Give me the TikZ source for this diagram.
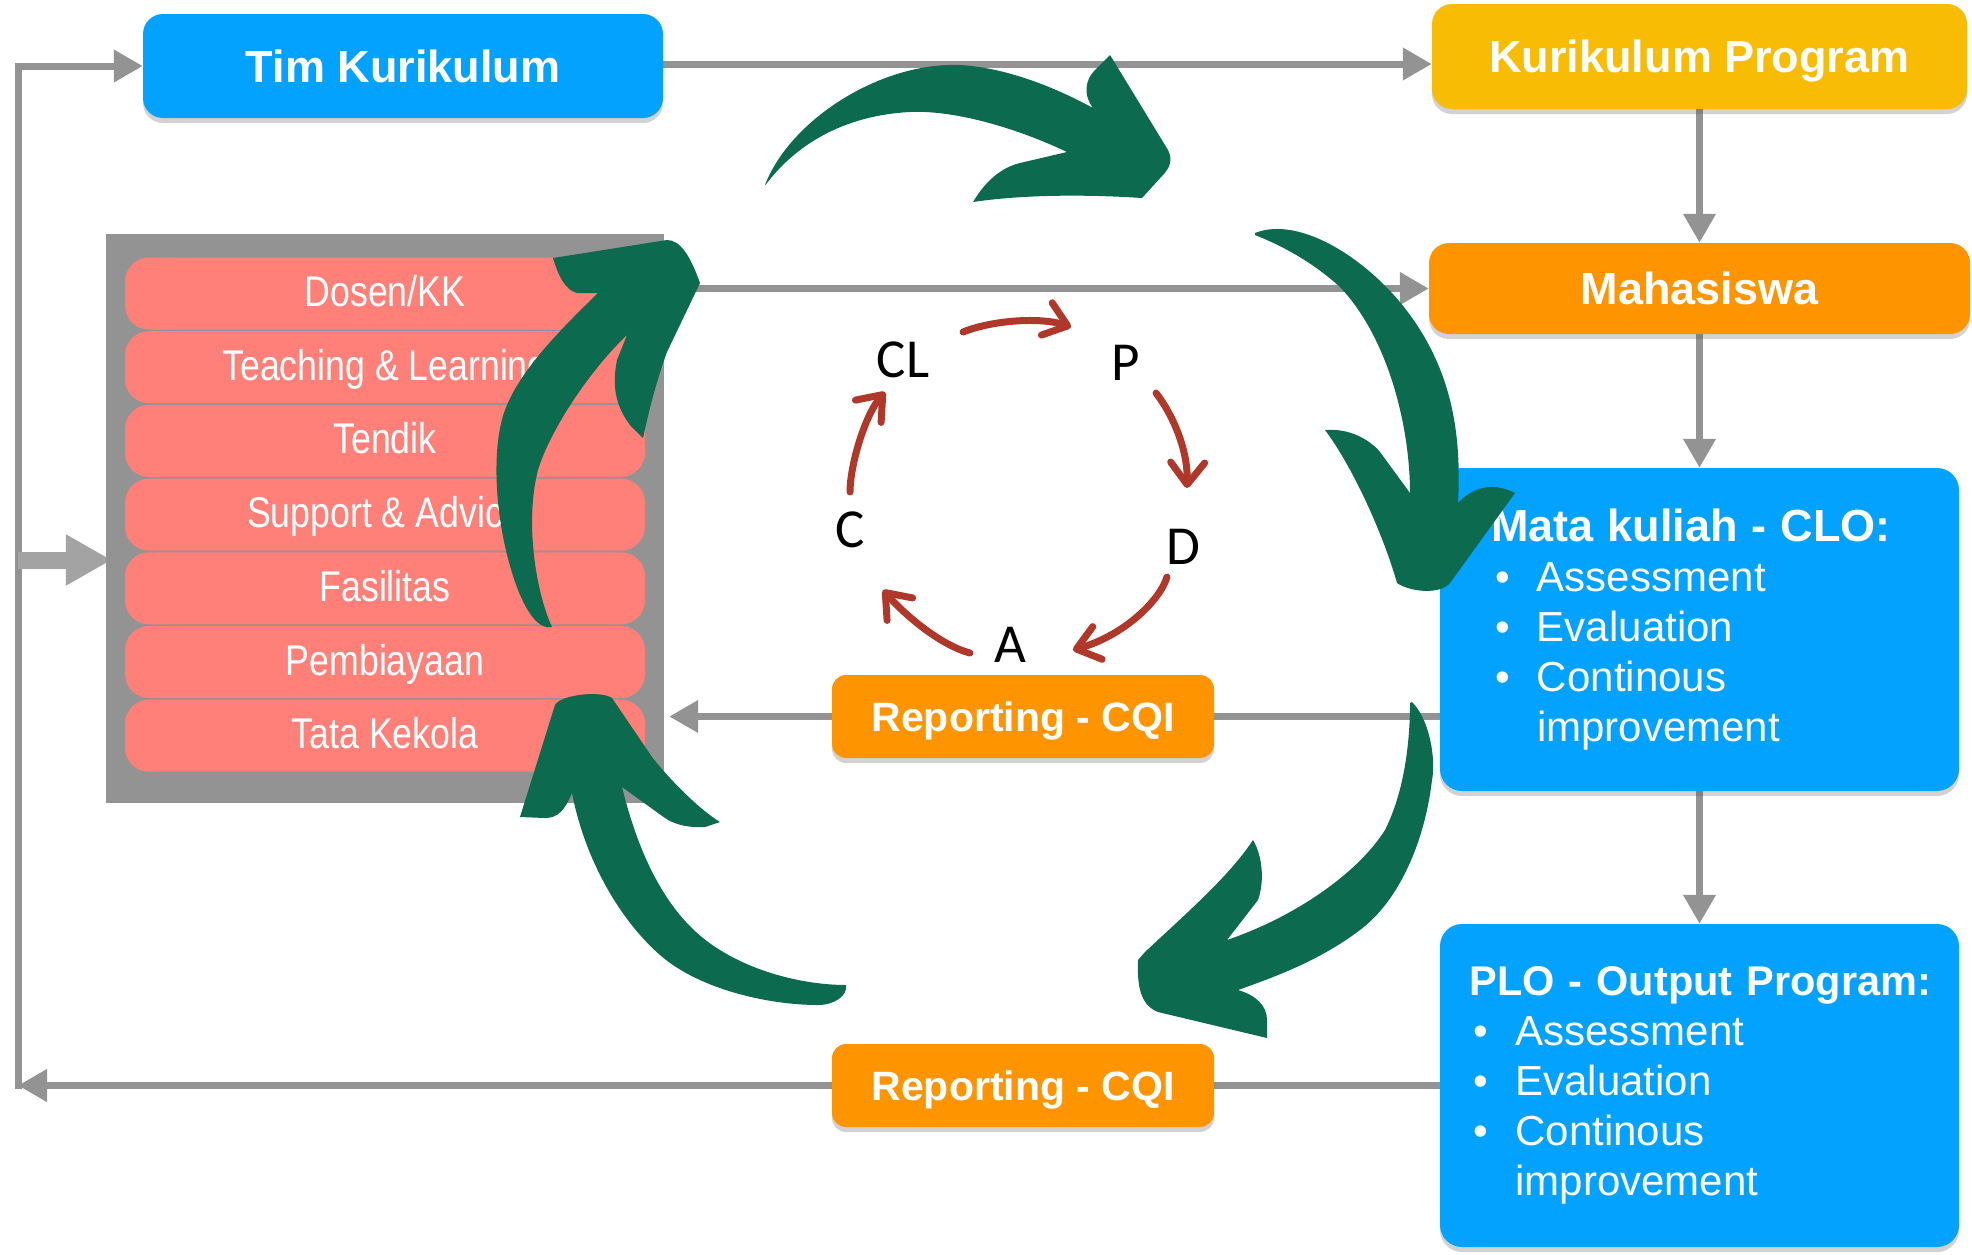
\documentclass[tikz,border=0pt]{standalone}
\usepackage{fontspec}
\setmainfont{Liberation Sans}
\newfontfamily\narrowfont[FakeStretch=0.83]{Liberation Sans}
\newfontfamily\calib{Carlito}
\usetikzlibrary{arrows.meta,shadows,backgrounds,calc}

\definecolor{cblue}{HTML}{03A2FF}
\definecolor{cgold}{HTML}{F8BC04}
\definecolor{corange}{HTML}{FE9400}
\definecolor{cpink}{HTML}{FF7F79}
\definecolor{cgray}{HTML}{939393}
\definecolor{cgreen}{HTML}{0C6A4E}
\definecolor{cred}{HTML}{B0382A}

\newcommand{\bul}{\hspace*{4pt}\makebox[42pt][l]{•}}

\tikzset{
  shad/.style={drop shadow={shadow xshift=0pt, shadow yshift=-5pt, opacity=0.25, fill=black!70}},
  titlebox/.style={shad, rounded corners=20pt, inner sep=0pt, text=white,
    font=\fontsize{45}{54}\selectfont\bfseries, text height=33pt, text depth=1pt},
  repbox/.style={shad, fill=corange, rounded corners=14pt, inner sep=0pt, text=white,
    minimum width=382pt, minimum height=83pt,
    font=\fontsize{41}{50}\selectfont\bfseries, text height=30pt, text depth=0pt},
  infobox/.style={shad, fill=cblue, rounded corners=22pt, minimum width=519pt, minimum height=323pt,
    inner ysep=0pt, align=left, text=white, font=\fontsize{42}{50}\selectfont},
  pinkrow/.style={fill=cpink, rounded corners=24pt, minimum width=520pt, minimum height=72pt,
    inner sep=0pt, text=white, font=\narrowfont\fontsize{43}{50}\selectfont,
    text height=31pt, text depth=5pt},
  letter/.style={inner sep=0pt, text=black, font=\calib\fontsize{55}{60}\selectfont},
  garr/.style={draw=cgray, line width=7pt, -{Triangle[length=29pt,width=31pt]}},
  gbig/.style={draw=cgray!85, line width=17pt, -{Triangle[length=46pt,width=48pt]}},
  rarr/.style={draw=cred, line width=7pt, line cap=round,
    -{Straight Barb[round,length=22pt,width=34pt]}},
  greenarrow/.style={fill=cgreen}
}

\begin{document}
\begin{tikzpicture}[x=1pt,y=-1pt]
\useasboundingbox (0,0) rectangle (1972,1254);

% ---------- boxes ----------
\node[titlebox, fill=cblue, minimum width=520pt, minimum height=104pt] (timk) at (403,66) {Tim Kurikulum};
\node[titlebox, fill=cgold, minimum width=535pt, minimum height=105pt] (kp) at (1699.5,56.5) {Kurikulum Program};
\node[titlebox, fill=corange, minimum width=541pt, minimum height=91pt] (mah) at (1699.5,288.5) {Mahasiswa};

\node[infobox, text width=417pt, inner xsep=51pt] (mata) at (1699.5,629.5)
  {\mbox{\fontsize{45}{50}\selectfont\bfseries Mata kuliah - CLO:}\\
   \bul Assessment\\
   \bul Evaluation\\
   \bul Continous\\
   \hspace*{46pt}improvement};
\node[infobox, text width=460pt, inner xsep=29.5pt] (plo) at (1699.5,1085.5)
  {\mbox{\fontsize{41.5}{50}\selectfont\bfseries PLO - Output Program:}\\
   \bul Assessment\\
   \bul Evaluation\\
   \bul Continous\\
   \hspace*{46pt}improvement};

\node[repbox] (rep1) at (1023,716.5) {Reporting - CQI};
\node[repbox] (rep2) at (1023,1085.5) {Reporting - CQI};

\node[fill=cgray, minimum width=558pt, minimum height=569pt, inner sep=0pt] (grey) at (385,518.5) {};
\node[pinkrow] (r1) at (385,293.5) {Dosen/KK};
\node[pinkrow] (r2) at (385,367.2) {Teaching \& Learning};
\node[pinkrow] (r3) at (385,440.9) {Tendik};
\node[pinkrow] (r4) at (385,514.6) {Support \& Advice};
\node[pinkrow] (r5) at (385,588.3) {Fasilitas};
\node[pinkrow] (r6) at (385,662.0) {Pembiayaan};
\node[pinkrow] (r7) at (385,735.7) {Tata Kekola};

% ---------- gray connectors ----------
\coordinate (lb) at (18,1085.5);
\coordinate (lt) at (18,66);
\coordinate (br) at (18,560);
\begin{pgfonlayer}{background}
  \fill[white] (0,0) rectangle (1972,1254);
  \draw[garr] ([yshift=2pt]timk.east) -- ([yshift=2pt]timk.east -| kp.west);
  \draw[garr] (kp.south) -- (mah.north);
  \draw[garr] (mah.south) -- (mata.north);
  \draw[garr] (mata.south) -- (plo.north);
  \draw[garr] (mah.west -| grey.east) -- (mah.west);
  \draw[garr] (mata.west |- rep1.center) -- ($(rep1.center -| grey.east)+(5,0)$);
  \draw[garr] (plo.west |- rep2.center) -- (lb);
  \draw[garr] ([yshift=-3.5pt]lb) -- (lt) -- (timk.west);
  \draw[gbig] (br) -- ($(br -| grey.west)+(6,0)$);
\end{pgfonlayer}

% ---------- PDCA letters ----------
\node[letter] (CL) at (903,360) {CL};
\node[letter] (P) at (1126,363) {P};
\node[letter] (D) at (1183,547) {D};
\node[letter] (A) at (1010,645) {A};
\node[letter] (C) at (850,530) {C};

\draw[rarr] ($(CL)+(60,-28)$) .. controls ($(CL)+(90,-40)$) and ($(P)+(-85,-46)$) .. ($(P)+(-55,-36)$);
\draw[rarr] ($(P)+(30,30)$) .. controls ($(P)+(47,52)$) and ($(D)+(5,-97)$) .. ($(D)+(4,-59)$);
\draw[rarr] ($(D)+(-16,30)$) .. controls ($(D)+(-23,53)$) and ($(A)+(115,-10)$) .. ($(A)+(63,5)$);
\draw[rarr] ($(A)+(-40,8)$) .. controls ($(A)+(-70,0)$) and ($(C)+(55,85)$) .. ($(C)+(33,60)$);
\draw[rarr] ($(C)+(0,-38)$) .. controls ($(C)+(0,-65)$) and ($(CL)+(-38,55)$) .. ($(CL)+(-18,32)$);

% ---------- green cycle arrows ----------
% top
\fill[greenarrow] (765,185) .. controls (790,120) and (880,62) .. (960,65)
  .. controls (1010,68) and (1060,90) .. (1093,108)
  .. controls (1083,95) and (1085,80) .. (1095,70) -- (1110,55)
  -- (1168,150) .. controls (1173,160) and (1170,168) .. (1162,176) -- (1142,198)
  .. controls (1080,194) and (1020,195) .. (973,202)
  .. controls (985,182) and (1000,168) .. (1020,163) -- (1067,152)
  .. controls (1010,125) and (950,110) .. (910,112)
  .. controls (850,115) and (800,140) .. (767,183) -- cycle;
% right
\fill[greenarrow] (1255,233) .. controls (1300,215) and (1370,260) .. (1410,315)
  .. controls (1450,370) and (1462,430) .. (1458,503)
  .. controls (1470,490) and (1490,480) .. (1515,493)
  -- (1450,583) .. controls (1440,595) and (1410,592) .. (1397,583)
  .. controls (1385,540) and (1355,470) .. (1325,430)
  .. controls (1350,428) and (1370,440) .. (1380,452) -- (1410,493)
  .. controls (1410,430) and (1390,340) .. (1340,287)
  .. controls (1310,260) and (1280,245) .. (1255,235) -- cycle;
% bottom right
\fill[greenarrow] (1412,702) .. controls (1430,720) and (1436,760) .. (1432,780)
  .. controls (1425,840) and (1400,900) .. (1360,930)
  .. controls (1320,960) and (1280,975) .. (1238,990)
  .. controls (1255,995) and (1267,1005) .. (1267,1020) -- (1267,1038)
  -- (1158,1012) .. controls (1140,1005) and (1137,985) .. (1138,960)
  -- (1145,952) .. controls (1190,910) and (1230,875) .. (1253,840)
  .. controls (1262,855) and (1265,880) .. (1258,900) -- (1227,940)
  .. controls (1300,915) and (1360,870) .. (1385,830)
  .. controls (1405,790) and (1410,740) .. (1410,703) -- cycle;
% bottom left
\fill[greenarrow] (846,985) .. controls (848,995) and (835,1005) .. (818,1005)
  .. controls (770,1005) and (700,990) .. (660,955)
  .. controls (620,920) and (585,860) .. (572,793)
  .. controls (565,810) and (558,818) .. (545,818) -- (520,817)
  -- (555,705) .. controls (560,695) and (600,690) .. (612,698)
  -- (652,757) .. controls (670,780) and (700,810) .. (720,822)
  -- (705,827) .. controls (690,828) and (675,825) .. (665,818) -- (622,787)
  .. controls (640,860) and (670,920) .. (720,950)
  .. controls (760,975) and (810,985) .. (846,985) -- cycle;
% left
\fill[greenarrow] (552,627) .. controls (540,630) and (528,615) .. (518,590)
  .. controls (495,530) and (490,450) .. (505,410)
  .. controls (520,370) and (560,330) .. (598,293)
  -- (577,293) .. controls (565,290) and (558,275) .. (553,258)
  -- (667,240) .. controls (680,240) and (690,255) .. (700,283)
  -- (667,352) .. controls (655,385) and (648,415) .. (643,438)
  -- (630,425) .. controls (615,405) and (612,385) .. (617,360) -- (627,335)
  .. controls (590,370) and (550,430) .. (538,470)
  .. controls (525,520) and (535,590) .. (552,627) -- cycle;
\end{tikzpicture}
\end{document}
